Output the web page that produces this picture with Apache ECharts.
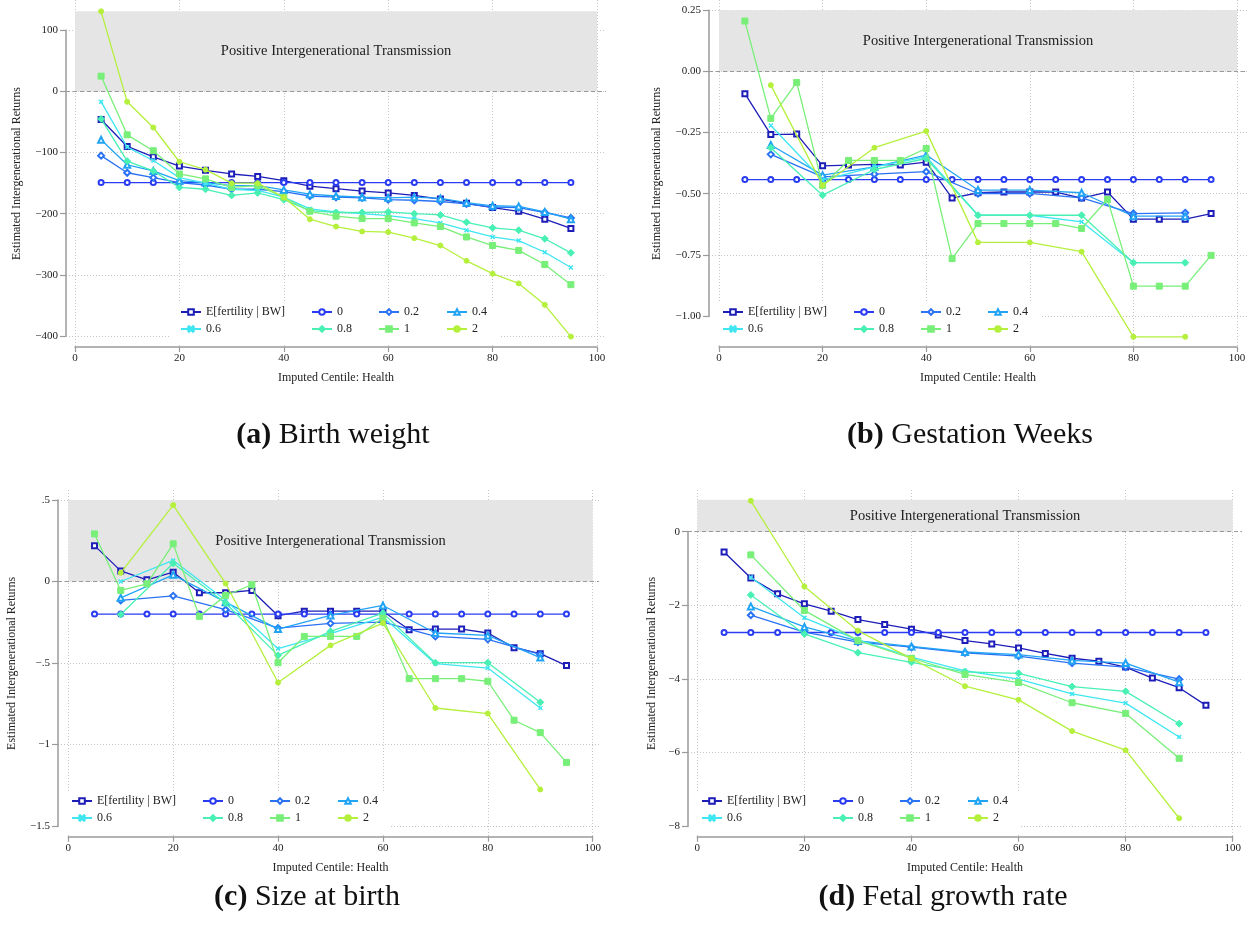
<!DOCTYPE html>
<html><head><meta charset="utf-8">
<script src="https://cdn.jsdelivr.net/npm/echarts@6/dist/echarts.min.js"></script>
<style>html,body{margin:0;padding:0;background:#fff}#c{width:1254px;height:945px}</style>
</head><body><div id="c"></div>
<script>
// ---------- DATA ----------
const seriesNames = ['E[fertility | BW]', '0', '0.2', '0.4', '0.6', '0.8', '1', '2'];
const centiles5 = [5,10,15,20,25,30,35,40,45,50,55,60,65,70,75,80,85,90,95];
const centiles10 = [10,20,30,40,50,60,70,80,90];
const xTicks = [0,20,40,60,80,100];
const bandLabel = 'Positive Intergenerational Transmission';
const xTitle = 'Imputed Centile: Health';
const yTitle = 'Estimated Intergenerational Returns';

// (a) Birth weight
const a_E   = [-46,-90,-107,-122,-129,-135,-139,-146,-155,-159,-163,-166,-170,-176,-183,-190,-196,-209,-224];
const a_0   = [-149,-149,-149,-149,-149,-149,-149,-149,-149,-149,-149,-149,-149,-149,-149,-149,-149,-149,-149];
const a_02  = [-105,-133,-141,-149,-153,-160,-160,-164,-171,-173,-174,-177,-178,-180,-184,-189,-190,-198,-207];
const a_04  = [-79,-120,-130,-146,-149,-154,-154,-161,-168,-171,-173,-174,-173,-175,-182,-187,-188,-197,-209];
const a_06  = [-17,-91,-113,-141,-150,-160,-162,-173,-192,-197,-200,-203,-208,-215,-227,-238,-244,-263,-288];
const a_08  = [-45,-114,-130,-157,-160,-170,-166,-177,-195,-198,-198,-197,-200,-202,-214,-223,-227,-241,-264];
const a_1   = [25,-71,-97,-135,-143,-157,-154,-173,-196,-204,-208,-208,-215,-221,-238,-252,-260,-283,-316];
const a_2   = [131,-17,-59,-115,-128,-150,-150,-173,-209,-221,-229,-230,-240,-252,-277,-298,-314,-349,-401];
const yTicksA  = [-400,-300,-200,-100,0,100];
const yLabelsA = ['\u2212400','\u2212300','\u2212200','\u2212100','0','100'];
const bandTopA = 131;

// (b) Gestation weeks
const b_E   = [-0.091,-0.258,-0.256,-0.386,-0.383,-0.380,-0.383,-0.371,-0.518,-0.496,-0.493,-0.493,-0.493,-0.518,-0.493,-0.604,-0.604,-0.604,-0.581];
const b_0   = [-0.442,-0.442,-0.442,-0.442,-0.442,-0.442,-0.442,-0.442,-0.442,-0.442,-0.442,-0.442,-0.442,-0.442,-0.442,-0.442,-0.442,-0.442,-0.442];
const b_02  = [-0.339,-0.431,-0.420,-0.410,-0.499,-0.499,-0.517,-0.581,-0.578];
const b_04  = [-0.301,-0.424,-0.390,-0.342,-0.485,-0.485,-0.496,-0.592,-0.592];
const b_06  = [-0.221,-0.444,-0.390,-0.349,-0.588,-0.588,-0.615,-0.782,-0.782];
const b_08  = [-0.312,-0.506,-0.401,-0.356,-0.588,-0.588,-0.588,-0.782,-0.782];
const b_1   = [0.206,-0.192,-0.045,-0.466,-0.364,-0.364,-0.364,-0.315,-0.765,-0.622,-0.622,-0.622,-0.622,-0.642,-0.523,-0.878,-0.878,-0.878,-0.752];
const b_2   = [-0.056,-0.466,-0.312,-0.244,-0.699,-0.699,-0.737,-1.085,-1.085];
const yTicksB  = [-1,-0.75,-0.5,-0.25,0,0.25];
const yLabelsB = ['\u22121.00','\u22120.75','\u22120.50','\u22120.25','0.00','0.25'];
const bandTopB = 0.25;

// (c) Size at birth
const c_E   = [0.220,0.065,0.010,0.057,-0.069,-0.069,-0.055,-0.210,-0.182,-0.182,-0.182,-0.182,-0.296,-0.292,-0.292,-0.316,-0.406,-0.443,-0.516];
const c_0   = [-0.2,-0.2,-0.2,-0.2,-0.2,-0.2,-0.2,-0.2,-0.2,-0.2,-0.2,-0.2,-0.2,-0.2,-0.2,-0.2,-0.2,-0.2,-0.2];
const c_02  = [-0.116,-0.088,-0.173,-0.286,-0.257,-0.249,-0.337,-0.355,-0.447];
const c_04  = [-0.100,0.041,-0.127,-0.292,-0.208,-0.147,-0.316,-0.331,-0.467];
const c_06  = [0.000,0.129,-0.115,-0.412,-0.320,-0.218,-0.504,-0.531,-0.776];
const c_08  = [-0.202,0.112,-0.133,-0.453,-0.306,-0.194,-0.498,-0.498,-0.741];
const c_1   = [0.292,-0.055,-0.014,0.231,-0.214,-0.086,-0.020,-0.498,-0.337,-0.337,-0.337,-0.224,-0.596,-0.596,-0.596,-0.612,-0.851,-0.927,-1.110];
const c_2   = [0.053,0.469,-0.012,-0.620,-0.392,-0.255,-0.776,-0.810,-1.276];
const yTicksC  = [-1.5,-1,-0.5,0,0.5];
const yLabelsC = ['\u22121.5','\u22121','\u2212.5','0','.5'];
const bandTopC = 0.5;

// (d) Fetal growth rate
const d_E   = [-0.55,-1.26,-1.69,-1.96,-2.16,-2.39,-2.52,-2.65,-2.81,-2.96,-3.05,-3.16,-3.31,-3.44,-3.52,-3.68,-3.98,-4.24,-4.72];
const d_0   = [-2.74,-2.74,-2.74,-2.74,-2.74,-2.74,-2.74,-2.74,-2.74,-2.74,-2.74,-2.74,-2.74,-2.74,-2.74,-2.74,-2.74,-2.74,-2.74];
const d_02  = [-2.27,-2.73,-3.00,-3.14,-3.29,-3.38,-3.57,-3.68,-4.01];
const d_04  = [-2.03,-2.59,-2.97,-3.12,-3.27,-3.34,-3.50,-3.57,-4.09];
const d_06  = [-1.24,-2.34,-2.94,-3.41,-3.78,-4.01,-4.41,-4.66,-5.58];
const d_08  = [-1.72,-2.78,-3.29,-3.55,-3.81,-3.85,-4.21,-4.34,-5.22];
const d_1   = [-0.63,-2.14,-2.96,-3.44,-3.88,-4.10,-4.65,-4.94,-6.16];
const d_2   = [0.84,-1.49,-2.69,-3.45,-4.20,-4.57,-5.42,-5.94,-7.79];
const yTicksD  = [-8,-6,-4,-2,0];
const yLabelsD = ['\u22128','\u22126','\u22124','\u22122','0'];
const bandTopD = 0.87;

// ---------- STYLE / LAYOUT ----------
const FONT = '"Liberation Serif","Times New Roman",serif';
const XPATH = 'path://M0,1.5L1.5,0L5,3.5L8.5,0L10,1.5L6.5,5L10,8.5L8.5,10L5,6.5L1.5,10L0,8.5L3.5,5Z';
const styleMap = {
  'E[fertility | BW]': {color:'#1d1db8', symbol:'emptyRect', size:5},
  '0':   {color:'#2a3cf2', symbol:'emptyCircle', size:5},
  '0.2': {color:'#2a72f5', symbol:'emptyDiamond', size:6},
  '0.4': {color:'#22a4f5', symbol:'emptyTriangle', size:6},
  '0.6': {color:'#3fe6f2', symbol:XPATH, size:4},
  '0.8': {color:'#48f0b4', symbol:'diamond', size:7},
  '1':   {color:'#78ef78', symbol:'rect', size:6},
  '2':   {color:'#b4f03c', symbol:'circle', size:5}
};
const legendCols = [['E[fertility | BW]','0.6'],['0','0.8'],['0.2','1'],['0.4','2']];

const panels = [
  {letter:'(a)', caption:'Birth weight', capX:333, capY:437,
   L:{x0:75, x1:597, regL:66, regR:606, top:0, axisY:347, hiPx:30.3, loPx:336, yTitleX:17},
   yTicks:yTicksA, yLabels:yLabelsA, band:bandTopA,
   legLefts:[180,311,378,446], legRow:312,
   series:[[centiles5,a_E],[centiles5,a_0],[centiles5,a_02],[centiles5,a_04],[centiles5,a_06],[centiles5,a_08],[centiles5,a_1],[centiles5,a_2]]},
  {letter:'(b)', caption:'Gestation Weeks', capX:970, capY:437,
   L:{x0:719, x1:1237, regL:709, regR:1247, top:0, axisY:347, hiPx:10.3, loPx:316, yTitleX:657},
   yTicks:yTicksB, yLabels:yLabelsB, band:bandTopB,
   legLefts:[722,853,920,987], legRow:312,
   series:[[centiles5,b_E],[centiles5,b_0],[centiles10,b_02],[centiles10,b_04],[centiles10,b_06],[centiles10,b_08],[centiles5,b_1],[centiles10,b_2]]},
  {letter:'(c)', caption:'Size at birth', capX:307, capY:899,
   L:{x0:68.3, x1:592.7, regL:58, regR:599, top:490, axisY:836.7, hiPx:500, loPx:826, yTitleX:12},
   yTicks:yTicksC, yLabels:yLabelsC, band:bandTopC,
   legLefts:[71,202,269,337], legRow:801,
   series:[[centiles5,c_E],[centiles5,c_0],[centiles10,c_02],[centiles10,c_04],[centiles10,c_06],[centiles10,c_08],[centiles5,c_1],[centiles10,c_2]]},
  {letter:'(d)', caption:'Fetal growth rate', capX:943, capY:899,
   L:{x0:697.3, x1:1232.7, regL:688, regR:1242, top:490, axisY:836.7, hiPx:531.7, loPx:826, yTitleX:652},
   yTicks:yTicksD, yLabels:yLabelsD, band:bandTopD,
   legLefts:[701,832,899,967], legRow:801,
   series:[[centiles5,d_E],[centiles5,d_0],[centiles10,d_02],[centiles10,d_04],[centiles10,d_06],[centiles10,d_08],[centiles10,d_1],[centiles10,d_2]]}
];

const AXC = '#9a9a9a';
const GRIDC = '#c4c4c4';
const option = {animation:false, backgroundColor:'#fff', grid:[], xAxis:[], yAxis:[], series:[], legend:[], title:[], graphic:[]};

panels.forEach((p, pi) => {
  const L = p.L;
  const vLo = p.yTicks[0], vHi = p.yTicks[p.yTicks.length-1];
  const step = p.yTicks[1] - p.yTicks[0];
  const s = (L.loPx - L.hiPx) / (vHi - vLo);
  const ymax = vHi + (L.hiPx - L.top) / s;
  const ymin = vLo - (L.axisY - L.loPx) / s;
  const gMain = option.grid.length;
  option.grid.push({left:L.x0, width:L.x1-L.x0, top:L.top, height:L.axisY-L.top, containLabel:false});
  const gAx = option.grid.length;
  option.grid.push({left:L.regL, width:L.regR-L.regL, top:L.hiPx, height:L.loPx-L.hiPx, containLabel:false});

  const xMain = option.xAxis.length;
  option.xAxis.push({gridIndex:gMain, type:'value', min:xTicks[0], max:xTicks[xTicks.length-1], interval:xTicks[1]-xTicks[0],
    name:xTitle, nameLocation:'middle', nameGap:25, nameTextStyle:{fontFamily:FONT, fontSize:12, color:'#222'},
    axisLine:{show:true, onZero:false, lineStyle:{color:AXC, width:1.5}},
    axisTick:{show:true, length:5, lineStyle:{color:AXC, width:1.2}},
    axisLabel:{margin:6, fontFamily:FONT, fontSize:11, color:'#222'},
    splitLine:{show:true, lineStyle:{color:GRIDC, type:[1,2], width:1}}});
  const yMain = option.yAxis.length;
  option.yAxis.push({gridIndex:gMain, type:'value', min:ymin, max:ymax,
    name:yTitle, nameLocation:'middle', nameRotate:90, nameGap:(L.x0 - L.yTitleX - 6),
    nameTextStyle:{fontFamily:FONT, fontSize:12, color:'#222'},
    axisLine:{show:false, onZero:false}, axisTick:{show:false}, axisLabel:{show:false}, splitLine:{show:false}});
  const xAx = option.xAxis.length;
  option.xAxis.push({gridIndex:gAx, type:'value', min:0, max:1, show:false});
  const yAx = option.yAxis.length;
  const ticks = p.yTicks, labels = p.yLabels;
  option.yAxis.push({gridIndex:gAx, type:'value', min:vLo, max:vHi, interval:step,
    axisLine:{show:true, onZero:false, lineStyle:{color:AXC, width:1.5}},
    axisTick:{show:true, length:6, lineStyle:{color:AXC, width:1.2}},
    axisLabel:{margin:8, fontFamily:FONT, fontSize:11, color:'#222',
      formatter: v => { const i = ticks.findIndex(t => Math.abs(t - v) < 1e-9); return i >= 0 ? labels[i] : ''; }},
    splitLine:{show:true, lineStyle:{color:GRIDC, type:[1,2], width:1}}});

  option.series.push({type:'line', xAxisIndex:xAx, yAxisIndex:yAx, data:[], silent:true, z:1,
    markLine:{silent:true, symbol:['none','none'], label:{show:false}, lineStyle:{color:'#999', type:[4,3], width:1},
      data:[{yAxis:0}]}});
  option.series.push({type:'line', xAxisIndex:xMain, yAxisIndex:yMain, data:[], silent:true, z:1,
    markArea:{silent:true, itemStyle:{color:'#e5e5e5'},
      label:{show:true, position:'inside', fontFamily:FONT, fontSize:14.5, color:'#222'},
      data:[[{name:bandLabel, xAxis:xTicks[0], yAxis:0},{xAxis:xTicks[xTicks.length-1], yAxis:p.band}]]}});

  seriesNames.forEach((nm, si) => {
    const st = styleMap[nm];
    const xs = p.series[si][0], ys = p.series[si][1];
    option.series.push({type:'line', name:nm, xAxisIndex:xMain, yAxisIndex:yMain, z:3 + si,
      data: xs.map((x, k) => [x, ys[k]]),
      symbol:st.symbol, symbolSize:st.size, showAllSymbol:true,
      lineStyle:{color:st.color, width:1.3},
      itemStyle:{color:st.color, borderColor:st.color, borderWidth:1},
      emphasis:{disabled:true}});
  });

  option.graphic.push({type:'rect', z:3, silent:true,
    shape:{x:p.legLefts[0]-10, y:p.legRow-10, width:330, height:(L.axisY-2)-(p.legRow-10)},
    style:{fill:'#fff'}});
  legendCols.forEach((col, ci) => {
    option.legend.push({data:col, orient:'vertical', left:p.legLefts[ci], top:p.legRow-6, padding:0,
      itemWidth:20, itemHeight:7, itemGap:5, selectedMode:false, z:5,
      textStyle:{fontFamily:FONT, fontSize:12, lineHeight:12, color:'#222'}});
  });
  option.title.push({text:'{b|' + p.letter + '} ' + p.caption, left:p.capX, top:p.capY-17, textAlign:'center', padding:0,
    textStyle:{fontFamily:FONT, fontSize:30, fontWeight:'normal', color:'#111',
      rich:{b:{fontFamily:FONT, fontSize:30, fontWeight:'bold', color:'#111'}}}});
});

const chart = echarts.init(document.getElementById('c'), null, {renderer:'canvas'});
chart.setOption(option);
</script></body></html>
